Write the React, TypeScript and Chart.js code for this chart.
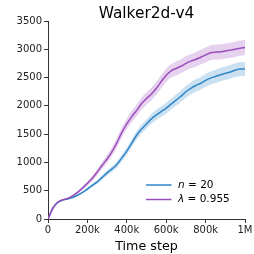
import React, { useEffect, useRef } from "react";
import { Chart, registerables } from "chart.js";

Chart.register(...registerables);

const steps = [
  0, 25000, 50000, 75000, 100000, 125000, 150000, 175000, 200000, 225000, 250000,
  275000, 300000, 325000, 350000, 375000, 400000, 425000, 450000, 475000, 500000,
  525000, 550000, 575000, 600000, 625000, 650000, 675000, 700000, 725000, 750000,
  775000, 800000, 825000, 850000, 875000, 900000, 925000, 950000, 975000, 1000000,
];

const nMean = [
  0, 200, 295, 335, 355, 380, 420, 470, 530, 595, 655,
  735, 815, 885, 965, 1080, 1200, 1340, 1480, 1590, 1680,
  1770, 1840, 1900, 1960, 2030, 2100, 2170, 2250, 2310, 2360,
  2400, 2450, 2490, 2520, 2550, 2575, 2600, 2630, 2650, 2650,
];
const nStd = [
  0, 10, 12, 12, 12, 14, 16, 20, 25, 30, 35,
  40, 45, 50, 55, 60, 65, 70, 75, 80, 85,
  88, 90, 92, 95, 98, 100, 102, 105, 108, 110,
  112, 114, 116, 118, 120, 120, 122, 122, 124, 124,
];

const lamMean = [
  0, 190, 300, 340, 365, 410, 470, 545, 630, 720, 830,
  950, 1060, 1190, 1350, 1530, 1680, 1810, 1920, 2040, 2130,
  2210, 2310, 2430, 2540, 2620, 2660, 2700, 2750, 2790, 2820,
  2860, 2900, 2940, 2950, 2955, 2970, 2985, 3000, 3020, 3030,
];
const lamStd = [
  0, 10, 12, 14, 15, 18, 22, 28, 35, 45, 55,
  62, 70, 78, 85, 90, 95, 100, 105, 108, 110,
  112, 115, 115, 118, 120, 122, 124, 125, 126, 128,
  130, 130, 132, 132, 134, 134, 135, 135, 136, 136,
];

const yTicks = [0, 500, 1000, 1500, 2000, 2500, 3000, 3500];
const xTickLabels: Record<number, string> = {
  0: "0",
  200000: "200k",
  400000: "400k",
  600000: "600k",
  800000: "800k",
  1000000: "1M",
};

const titleText = "Walker2d-v4";
const xTitle = "Time step";

const BLUE = "#2f86c8";
const BLUE_BAND = "rgba(47,134,200,0.25)";
const PURPLE = "#9b4dbc";
const PURPLE_BAND = "rgba(155,77,188,0.25)";
const FONT = "'DejaVu Sans', sans-serif";

function pts(vals: number[]) {
  return steps.map((s, i) => ({ x: s, y: vals[i] }));
}
function band(vals: number[], sd: number[], sign: number) {
  return steps.map((s, i) => ({ x: s, y: vals[i] + sign * sd[i] }));
}

const overlayPlugin = {
  id: "overlay",
  afterDraw(chart: any) {
    const ctx = chart.ctx as CanvasRenderingContext2D;
    const area = chart.chartArea;
    ctx.save();
    ctx.fillStyle = "#000";
    ctx.font = `15.4px ${FONT}`;
    ctx.textAlign = "center";
    ctx.textBaseline = "alphabetic";
    ctx.fillText(titleText, (area.left + area.right) / 2, 17.5);

    const rows = [
      { color: BLUE, italic: "n", rest: " = 20" },
      { color: PURPLE, italic: "λ", rest: " = 0.955" },
    ];
    const x0 = 146;
    const x1 = 171.5;
    const tx = 178;
    const ys = [185, 199.5];
    rows.forEach((r, i) => {
      const y = ys[i];
      ctx.strokeStyle = r.color;
      ctx.lineWidth = 1.5;
      ctx.beginPath();
      ctx.moveTo(x0, y);
      ctx.lineTo(x1, y);
      ctx.stroke();
      ctx.fillStyle = "#000";
      ctx.textAlign = "left";
      ctx.textBaseline = "middle";
      ctx.font = `italic 10.5px ${FONT}`;
      ctx.fillText(r.italic, tx, y);
      const w = ctx.measureText(r.italic).width;
      ctx.font = `10.5px ${FONT}`;
      ctx.fillText(r.rest, tx + w, y);
    });
    ctx.restore();
  },
};

export default function App() {
  const ref = useRef<HTMLCanvasElement | null>(null);
  useEffect(() => {
    if (!ref.current) return;
    const common = { pointRadius: 0, tension: 0.2 };
    const chart = new Chart(ref.current, {
      type: "line",
      data: {
        datasets: [
          { label: "λ = 0.955", data: pts(lamMean), borderColor: PURPLE, borderWidth: 1.5, fill: false, ...common },
          { label: "n = 20", data: pts(nMean), borderColor: BLUE, borderWidth: 1.5, fill: false, ...common },
          { label: "lam upper", data: band(lamMean, lamStd, 1), borderWidth: 0, borderColor: "transparent", fill: false, ...common },
          { label: "lam lower", data: band(lamMean, lamStd, -1), borderWidth: 0, borderColor: "transparent", backgroundColor: PURPLE_BAND, fill: "-1", ...common },
          { label: "n upper", data: band(nMean, nStd, 1), borderWidth: 0, borderColor: "transparent", fill: false, ...common },
          { label: "n lower", data: band(nMean, nStd, -1), borderWidth: 0, borderColor: "transparent", backgroundColor: BLUE_BAND, fill: "-1", ...common },
        ],
      },
      options: {
        responsive: false,
        animation: false,
        events: [],
        layout: { padding: { left: 0, right: 9, top: 21, bottom: 0 } },
        plugins: {
          legend: { display: false },
          title: { display: false },
          tooltip: { enabled: false },
        },
        scales: {
          x: {
            type: "linear",
            min: 0,
            max: 1000000,
            afterFit: (s: any) => {
              s.height = 35;
            },
            afterBuildTicks: (s: any) => {
              s.ticks = Object.keys(xTickLabels).map((k) => ({ value: Number(k) }));
            },
            ticks: {
              callback: (v: any) => xTickLabels[Number(v)] ?? "",
              font: { family: FONT, size: 10 },
              color: "#222",
              padding: 1,
              maxRotation: 0,
              autoSkip: false,
            },
            grid: { drawOnChartArea: false, drawTicks: true, tickLength: 4, color: "#333", lineWidth: 1 },
            border: { display: true, color: "#333", width: 1 },
            title: {
              display: true,
              text: xTitle,
              font: { family: FONT, size: 12.7 },
              color: "#000",
              padding: { top: 0, bottom: 0 },
            },
          },
          y: {
            type: "linear",
            min: 0,
            max: 3500,
            afterFit: (s: any) => {
              s.width = 48;
            },
            afterBuildTicks: (s: any) => {
              s.ticks = yTicks.map((v) => ({ value: v }));
            },
            ticks: {
              callback: (v: any) => String(v),
              font: { family: FONT, size: 10 },
              color: "#222",
              padding: 2,
              autoSkip: false,
            },
            grid: { drawOnChartArea: false, drawTicks: true, tickLength: 4, color: "#333", lineWidth: 1 },
            border: { display: true, color: "#333", width: 1 },
          },
        },
      },
      plugins: [overlayPlugin],
    });
    return () => chart.destroy();
  }, []);
  return (
    <div style={{ position: "fixed", left: 0, top: 0, width: 254, height: 254, background: "#fff" }}>
      <canvas ref={ref} width={254} height={254} style={{ width: 254, height: 254 }} />
    </div>
  );
}
